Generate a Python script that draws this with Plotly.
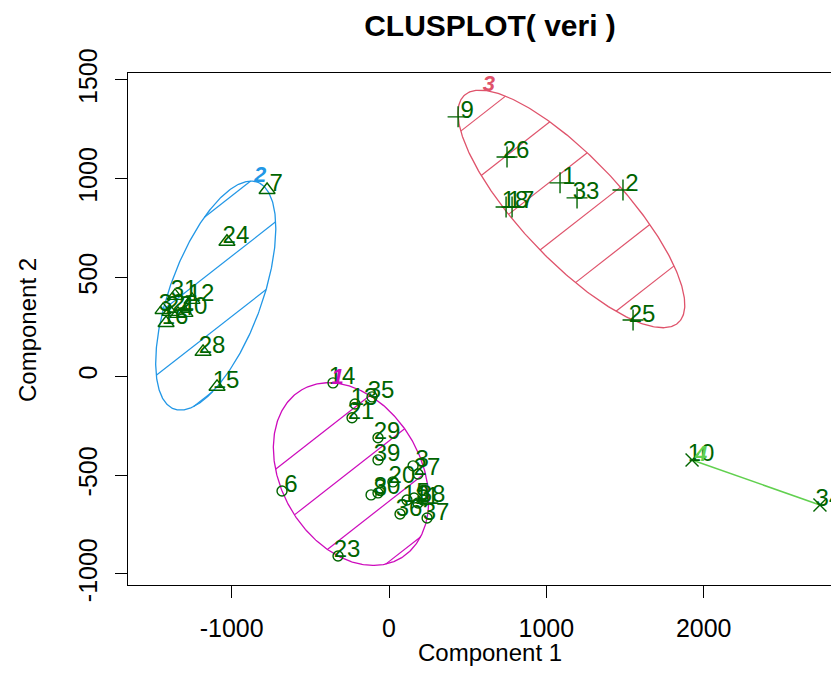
import numpy as np
import plotly.graph_objects as go

# ---------------- data ----------------
# cluster 1 (circles, magenta ellipse)
c1_labels = ["14", "13", "35", "21", "29", "39", "20", "3", "27", "8", "30",
             "19", "5", "11", "38", "36", "37", "6", "23"]
c1_comp1 = [-356, -216, -108, -235, -70, -70, 25, 153, 184, -114, -70,
            114, 159, 184, 216, 70, 242, -680, -324]
c1_comp2 = [-33, -140, -104, -210, -311, -423, -534, -453, -494, -600, -590,
            -626, -616, -641, -626, -697, -717, -580, -909]

# cluster 2 (triangles, blue ellipse)
c2_labels = ["7", "24", "31", "12", "32", "22", "4", "40", "16", "28", "15"]
c2_comp1 = [-775, -1030, -1360, -1252, -1436, -1392, -1341, -1297, -1417, -1182, -1093]
c2_comp2 = [943, 681, 407, 387, 336, 326, 316, 321, 270, 124, -53]

# cluster 3 (plus signs, red ellipse)
c3_labels = ["9", "26", "1", "33", "2", "18", "17", "25"]
c3_comp1 = [439, 750, 1087, 1195, 1487, 744, 782, 1551]
c3_comp2 = [1313, 1110, 979, 903, 943, 857, 857, 285]

# cluster 4 (crosses, green segment)
c4_labels = ["10", "34"]
c4_comp1 = [1926, 2739]
c4_comp2 = [-423, -651]

cluster_names = ["1", "2", "3", "4"]
x_ticks = [-1000, 0, 1000, 2000]
x_ticktext = ["-1000", "0", "1000", "2000"]
y_ticks = [-1000, -500, 0, 500, 1000, 1500]
y_ticktext = ["-1000", "-500", "0", "500", "1000", "1500"]

# ---------------- styling / layout ----------------
OFF = 8                      # page offset of the figure (body margin)
W_FIG, H_FIG = 839 - OFF, 691 - OFF
L = 128 - OFF
T = 73 - OFF
R_ = 0
B = H_FIG - (585 - OFF)
X_RANGE = [-1659, 2860]
Y_RANGE = [-1056, 1535]
PW = W_FIG - L - R_
PH = H_FIG - T - B

clu_colors = ["#CD0BBC", "#2297E6", "#DF536B", "#61D04F"]
pt_color = "#006400"
symbols = ["circle-open", "triangle-up-open", "cross-thin-open", "x-thin-open"]
sizes = [10, 14, 15, 13]
hatch_phase = [17, 12, 7]
hatch_spacing = 47.5
hatch_angle = np.deg2rad(38)
FONT = "Liberation Sans, Arial, sans-serif"


def to_px(x, y):
    """data -> page pixels"""
    px = OFF + L + (np.asarray(x) - X_RANGE[0]) / (X_RANGE[1] - X_RANGE[0]) * PW
    py = OFF + T + (Y_RANGE[1] - np.asarray(y)) / (Y_RANGE[1] - Y_RANGE[0]) * PH
    return px, py


def from_px(px, py):
    x = X_RANGE[0] + (np.asarray(px) - OFF - L) / PW * (X_RANGE[1] - X_RANGE[0])
    y = Y_RANGE[1] - (np.asarray(py) - OFF - T) / PH * (Y_RANGE[1] - Y_RANGE[0])
    return x, y


def mvee(P, tol=1e-9, max_iter=20000):
    """Minimum volume enclosing ellipse (Khachiyan), like ellipsoidhull."""
    P = np.asarray(P, float)
    N, d = P.shape
    Q = np.vstack([P.T, np.ones(N)])
    u = np.ones(N) / N
    for _ in range(max_iter):
        X = Q @ np.diag(u) @ Q.T
        M = np.einsum("ij,ji->i", Q.T @ np.linalg.inv(X), Q)
        j = int(np.argmax(M))
        step = (M[j] - d - 1) / ((d + 1) * (M[j] - 1))
        new_u = (1 - step) * u
        new_u[j] += step
        err = np.linalg.norm(new_u - u)
        u = new_u
        if err < tol:
            break
    c = P.T @ u
    A = np.linalg.inv(P.T @ np.diag(u) @ P - np.outer(c, c)) / d
    return c, A


fig = go.Figure()

clusters = [
    (c1_labels, c1_comp1, c1_comp2),
    (c2_labels, c2_comp1, c2_comp2),
    (c3_labels, c3_comp1, c3_comp2),
    (c4_labels, c4_comp1, c4_comp2),
]

label_tops = []
for k, (labs, xs, ys) in enumerate(clusters):
    col = clu_colors[k]
    if len(xs) >= 3:
        px, py = to_px(xs, ys)
        P = np.column_stack([px, py])
        c, A = mvee(P)
        vals, vecs = np.linalg.eigh(A)
        t = np.linspace(0, 2 * np.pi, 400)
        pts = c[:, None] + vecs @ np.vstack([np.cos(t) / np.sqrt(vals[0]),
                                             np.sin(t) / np.sqrt(vals[1])])
        ex, ey = from_px(pts[0], pts[1])
        fig.add_trace(go.Scatter(x=ex, y=ey, mode="lines",
                                 line=dict(color=col, width=1.3),
                                 hoverinfo="skip", showlegend=False))
        # hatching (parallel lines clipped to the ellipse)
        u = np.array([np.cos(hatch_angle), -np.sin(hatch_angle)])
        n = np.array([np.sin(hatch_angle), np.cos(hatch_angle)])
        Ainv = np.linalg.inv(A)
        ext = np.sqrt(n @ Ainv @ n)
        cn = n @ c
        hx, hy = [], []
        m0 = int(np.floor((cn - ext - hatch_phase[k]) / hatch_spacing))
        m1 = int(np.ceil((cn + ext - hatch_phase[k]) / hatch_spacing))
        for m in range(m0, m1 + 1):
            kk = hatch_phase[k] + m * hatch_spacing
            p0 = n * kk
            dlt = p0 - c
            a = u @ A @ u
            b = 2 * u @ A @ dlt
            cc = dlt @ A @ dlt - 1
            disc = b * b - 4 * a * cc
            if disc <= 0:
                continue
            t1 = (-b - np.sqrt(disc)) / (2 * a)
            t2 = (-b + np.sqrt(disc)) / (2 * a)
            q1 = p0 + t1 * u
            q2 = p0 + t2 * u
            X1, Y1 = from_px(q1[0], q1[1])
            X2, Y2 = from_px(q2[0], q2[1])
            hx += [float(X1), float(X2), None]
            hy += [float(Y1), float(Y2), None]
        fig.add_trace(go.Scatter(x=hx, y=hy, mode="lines",
                                 line=dict(color=col, width=1.2),
                                 hoverinfo="skip", showlegend=False))
        ytop_off = np.sqrt(Ainv[1, 1])
        xtop_off = Ainv[0, 1] / ytop_off
        tx, ty = from_px(c[0] - xtop_off, c[1] - ytop_off)
        label_tops.append((float(tx), float(ty)))
    else:
        fig.add_trace(go.Scatter(x=xs, y=ys, mode="lines",
                                 line=dict(color=col, width=1.6),
                                 hoverinfo="skip", showlegend=False))
        i = int(np.argmax(ys))
        label_tops.append((xs[i], ys[i]))

# points and labels
dx_lab = 9 / PW * (X_RANGE[1] - X_RANGE[0])
dy_lab = 4.5 / PH * (Y_RANGE[1] - Y_RANGE[0])
for k, (labs, xs, ys) in enumerate(clusters):
    fig.add_trace(go.Scatter(
        x=xs, y=ys, mode="markers",
        marker=dict(symbol=symbols[k], size=sizes[k], color=pt_color,
                    line=dict(color=pt_color, width=1.4)),
        showlegend=False, hoverinfo="skip"))
for k, (labs, xs, ys) in enumerate(clusters):
    fig.add_trace(go.Scatter(
        x=[v + dx_lab for v in xs], y=[v + dy_lab for v in ys],
        mode="text", text=labs, textposition="middle center",
        textfont=dict(family=FONT, size=24, color=pt_color),
        showlegend=False, hoverinfo="skip", cliponaxis=False))

# cluster labels (at the top of each ellipse, same offset as point labels)
for k, (tx, ty) in enumerate(label_tops):
    fig.add_trace(go.Scatter(
        x=[tx + dx_lab], y=[ty + dy_lab], mode="text",
        text=[f"<b><i>{cluster_names[k]}</i></b>"],
        textposition="middle center",
        textfont=dict(family=FONT, size=22, color=clu_colors[k]),
        showlegend=False, hoverinfo="skip", cliponaxis=False))

axis_common = dict(showgrid=False, zeroline=False, showline=True, mirror=True,
                   linecolor="black", linewidth=1.3, ticks="outside",
                   ticklen=12, tickwidth=1.3, tickcolor="black",
                   tickfont=dict(family=FONT, size=25, color="black"))

fig.update_layout(
    width=W_FIG, height=H_FIG,
    margin=dict(l=L, r=R_, t=T, b=B, autoexpand=False),
    plot_bgcolor="white", paper_bgcolor="white",
    title=dict(text="<b>CLUSPLOT( veri )</b>", x=(490 - OFF) / W_FIG, xref="container",
               xanchor="center", y=1 - (25 - OFF) / H_FIG, yanchor="middle",
               font=dict(family=FONT, size=30, color="black")),
    xaxis=dict(range=X_RANGE, tickvals=x_ticks, ticktext=x_ticktext,
               ticklabelstandoff=9, **axis_common),
    yaxis=dict(range=Y_RANGE, tickvals=y_ticks, ticktext=y_ticktext,
               tickangle=-90, ticklabelstandoff=8, **axis_common),
    annotations=[
        dict(text="Component 1", xref="paper", yref="paper",
             x=(490 - OFF - L) / PW, y=-(652 - 585) / PH, showarrow=False,
             xanchor="center", yanchor="middle",
             font=dict(family=FONT, size=24, color="black")),
        dict(text="Component 2", xref="paper", yref="paper",
             x=(27 - OFF - L) / PW, y=(585 - 330) / PH, showarrow=False,
             textangle=-90, xanchor="center", yanchor="middle",
             font=dict(family=FONT, size=24, color="black")),
    ],
)

fig.write_html("out.html")
